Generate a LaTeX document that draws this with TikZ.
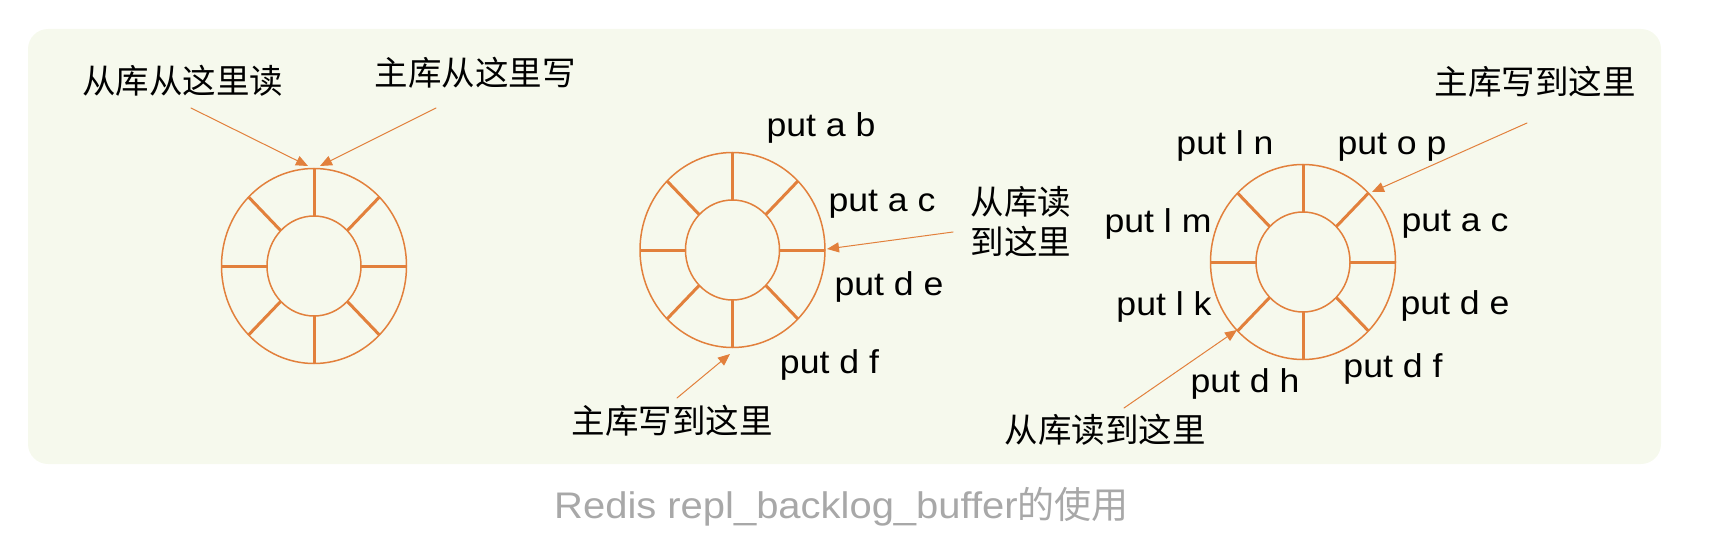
\documentclass[tikz,border=0pt]{standalone}
\usepackage{fontspec}
\setmainfont{Liberation Sans}[FakeStretch=1.08]
\newfontfamily\cjk{Noto Sans CJK SC}
\usetikzlibrary{arrows.meta}
\definecolor{ringorange}{RGB}{226,128,60}
\definecolor{panelbg}{RGB}{246,249,237}
\definecolor{captiongray}{RGB}{168,168,168}
\tikzset{
	ring/.style={draw=ringorange, line width=0.75pt},
	spoke/.style={draw=ringorange, line width=1.5pt, line cap=butt},
	pointer/.style={draw=ringorange, line width=0.5pt, -{Triangle[length=6pt,width=5pt]}},
	cmd/.style={anchor=base, inner sep=0pt, font=\fontsize{16.5}{19}\selectfont},
	note/.style={inner sep=0pt, align=center, font=\fontsize{16.75}{20}\selectfont\cjk},
}
\begin{document}
\begin{tikzpicture}[x=0.5pt, y=-0.5pt, line join=round, line cap=round]
	\def\rxo{92.5} \def\ryo{97.5} \def\rxi{47} \def\ryi{50}
	\useasboundingbox (0,0) rectangle (1720,556);
	\fill[panelbg, rounded corners=10pt] (28,29) rectangle (1661,464);
	\coordinate (c1) at (314,266);
	\coordinate (c2) at (732.5,250);
	\coordinate (c3) at (1303,262);
	\foreach \c in {c1,c2,c3} {
		\begin{scope}[shift={(\c)}]
			\foreach \a in {0,45,...,315}
				\draw[spoke] (\a:{\rxi} and {\ryi}) -- (\a:{\rxo} and {\ryo});
			\draw[ring] (0,0) ellipse [x radius=\rxo, y radius=\ryo];
			\draw[ring] (0,0) ellipse [x radius=\rxi, y radius=\ryi];
		\end{scope}
	}
	\node[note] (r1) at (183,81) {从库从这里读};
	\node[note] (w1) at (475,73) {主库从这里写};
	\coordinate (r1t) at (191,108); \coordinate (r1h) at (308,166);
	\coordinate (w1t) at (436,108); \coordinate (w1h) at (320,166);
	\draw[pointer] (r1t) -- (r1h);
	\draw[pointer] (w1t) -- (w1h);
	\node[cmd] (ab2) at (821,137) {put a b};
	\node[cmd] (ac2) at (882,212) {put a c};
	\node[cmd] (de2) at (889,295) {put d e};
	\node[cmd] (df2) at (829.5,373) {put d f};
	\node[note] (r2) at (1021,222) {从库读\\到这里};
	\node[note] (w2) at (672,421) {主库写到这里};
	\coordinate (r2t) at (953,232); \coordinate (r2h) at (827,249);
	\coordinate (w2t) at (677,398); \coordinate (w2h) at (730,354);
	\draw[pointer] (r2t) -- (r2h);
	\draw[pointer] (w2t) -- (w2h);
	\node[cmd] (ln3) at (1225,155) {put l n};
	\node[cmd] (op3) at (1392,155) {put o p};
	\node[cmd] (lm3) at (1158,233) {put l m};
	\node[cmd] (ac3) at (1455,232) {put a c};
	\node[cmd] (lk3) at (1164,315) {put l k};
	\node[cmd] (de3) at (1455,314) {put d e};
	\node[cmd] (dh3) at (1245,392) {put d h};
	\node[cmd] (df3) at (1393,377) {put d f};
	\node[note] (w3) at (1535,82) {主库写到这里};
	\node[note] (r3) at (1105,430) {从库读到这里};
	\coordinate (w3t) at (1527,123); \coordinate (w3h) at (1372,192);
	\coordinate (r3t) at (1124,408); \coordinate (r3h) at (1237,330);
	\draw[pointer] (w3t) -- (w3h);
	\draw[pointer] (r3t) -- (r3h);
	\node[anchor=base, inner sep=0pt, text=captiongray, font=\fontsize{18.5}{20}\selectfont] (cap) at (841.5,518) {Redis repl\_backlog\_buffer{\cjk 的使用}};
\end{tikzpicture}
\end{document}
